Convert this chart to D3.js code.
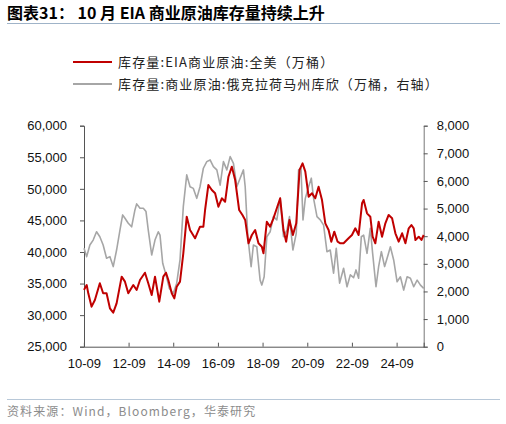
<!DOCTYPE html>
<html><head><meta charset="utf-8">
<script src="https://cdn.jsdelivr.net/npm/d3@7"></script>
<style>
body{margin:0;background:#fff;}
svg{display:block;font-family:"Liberation Sans",Arial,sans-serif;}
</style></head>
<body><svg id="c" width="506" height="424"></svg>
<script>
// ---- data ----
const seriesNames = ["库存量:EIA商业原油:全美（万桶）", "库存量:商业原油:俄克拉荷马州库欣（万桶，右轴）"];
const usDates = ["2010-09-03","2010-10-17","2010-11-12","2011-01-05","2011-02-28","2011-05-20","2011-07-13","2011-09-07","2011-11-01","2011-12-25",
"2012-02-18","2012-05-11","2012-07-04","2012-08-27","2012-11-17","2013-01-11","2013-03-07","2013-05-27","2013-07-20","2013-09-14",
"2013-11-07","2014-01-16","2014-03-23","2014-05-06","2014-06-13","2014-08-08","2014-09-19","2014-10-28","2014-12-21","2015-02-13",
"2015-04-10","2015-06-03","2015-08-24","2015-11-13","2016-01-07","2016-02-04","2016-03-29","2016-05-24","2016-07-17","2016-09-09",
"2016-11-04","2016-12-28","2017-02-20","2017-04-17","2017-06-10","2017-08-14","2017-10-07","2017-11-21","2018-01-14","2018-03-10",
"2018-05-03","2018-06-26","2018-08-20","2018-09-16","2018-11-10","2019-01-03","2019-02-26","2019-04-22","2019-06-16","2019-08-09",
"2019-09-22","2019-11-15","2020-01-10","2020-03-05","2020-04-28","2020-06-16","2020-07-31","2020-09-23","2020-11-17","2021-01-10",
"2021-03-05","2021-04-30","2021-06-23","2021-08-16","2021-09-29","2021-11-17","2022-01-10","2022-02-23","2022-04-18","2022-07-08",
"2022-09-02","2022-10-27","2022-12-20","2023-02-14","2023-03-12","2023-05-06","2023-06-29","2023-08-06","2023-09-19","2023-11-12",
"2024-01-07","2024-03-01","2024-04-24","2024-06-19","2024-08-12","2024-10-05","2024-11-30","2025-01-23","2025-03-18","2025-05-01",
"2025-06-08","2025-07-06","2025-08-29","2025-10-12","2025-11-18"];
const usStocks = [34000,34770,33450,31340,32400,35040,33460,33460,31080,30390,
31870,36090,35300,33460,34770,33980,35560,36720,35040,33190,
36090,32130,36090,36720,35560,33460,32660,34500,35300,39790,
45590,43480,42170,44000,44000,46650,50610,49820,49290,47170,
48500,47960,51920,53510,51400,46650,45860,45070,41380,42690,
43480,41380,40840,39790,44800,44000,45330,46920,48500,43480,
41630,45070,42690,44540,52990,54040,52720,48760,49290,48500,
50340,48230,44540,43480,41630,43220,41630,41380,41380,42170,
42690,43750,42690,47710,48230,46120,45590,42420,41380,44800,
42420,44540,45860,45330,42960,41630,42960,41380,43750,44270,
43750,41900,42420,41900,42690];
const cushingDates = ["2010-09-03","2010-10-17","2010-12-08","2011-01-31","2011-03-27","2011-05-20","2011-07-13","2011-09-07","2011-11-01","2011-12-25",
"2012-02-18","2012-04-13","2012-05-27","2012-07-04","2012-08-27","2012-10-21","2012-12-14","2013-01-11","2013-03-07","2013-04-30",
"2013-06-13","2013-07-20","2013-09-14","2013-11-07","2013-12-31","2014-01-28","2014-03-13","2014-05-06","2014-06-29","2014-09-02",
"2014-10-28","2014-12-21","2015-02-13","2015-04-10","2015-06-03","2015-07-27","2015-09-21","2015-11-13","2016-01-07","2016-03-03",
"2016-04-26","2016-06-19","2016-08-14","2016-10-07","2016-11-30","2017-01-25","2017-03-20","2017-05-13","2017-07-07","2017-08-30",
"2017-10-23","2017-11-21","2018-01-03","2018-02-26","2018-04-04","2018-05-29","2018-07-23","2018-08-20","2018-09-27","2018-11-10",
"2019-01-03","2019-02-26","2019-04-22","2019-06-16","2019-08-09","2019-10-04","2019-11-15","2020-01-10","2020-03-05","2020-04-12",
"2020-05-21","2020-06-23","2020-07-31","2020-09-23","2020-11-06","2020-12-13","2021-02-07","2021-04-02","2021-05-26","2021-07-20",
"2021-09-12","2021-11-05","2021-12-19","2022-02-12","2022-04-18","2022-06-13","2022-08-06","2022-09-29","2022-11-07","2022-12-20",
"2023-02-02","2023-03-12","2023-05-06","2023-06-29","2023-08-06","2023-09-30","2023-11-12","2023-12-27","2024-02-18","2024-04-14",
"2024-05-22","2024-07-15","2024-09-09","2024-11-02","2024-12-26","2025-02-20","2025-04-15","2025-06-08","2025-08-03","2025-09-26",
"2025-11-18"];
const cushingStocks = [3560,3260,3680,3860,4160,3980,3680,3200,3260,2900,
3500,4220,4770,4650,4470,4340,4950,5170,5010,5010,
4890,4220,3320,3860,4160,4040,3020,2600,2110,1930,
2300,3140,5070,6220,5790,5730,5370,5790,6460,6700,
6760,6520,6400,5850,6700,6400,6880,6640,5790,6100,
6400,5790,3980,2900,3680,3620,2410,2230,2530,3980,
4160,4710,4590,5370,3980,4220,4710,3500,4100,6400,
6460,4590,5370,5790,6100,5370,4710,4590,4400,3440,
3500,2660,3560,2300,2840,2170,2600,2500,2780,2480,
3980,4040,3380,4290,3380,2170,2900,3440,2900,3320,
3620,3140,2350,2530,2050,2530,2480,2170,2410,2230,
2110];
const xTickLabels = ["10-09","12-09","14-09","16-09","18-09","20-09","22-09","24-09"];
const leftTicks = [25000,30000,35000,40000,45000,50000,55000,60000];
const rightTicks = [0,1000,2000,3000,4000,5000,6000,7000,8000];

// ---- layout ----
const svg = d3.select("#c");
const m = {l:84, r:423.7, t:125.7, b:346.7};
const parse = d3.timeParse("%Y-%m-%d");
const parseTick = d3.timeParse("%y-%m");
const us = usDates.map((d,i)=>({d:parse(d), v:usStocks[i]}));
const cu = cushingDates.map((d,i)=>({d:parse(d), v:cushingStocks[i]}));

const x = d3.scaleTime().domain(d3.extent(us, d=>d.d)).range([m.l, m.r]);
const yL = d3.scaleLinear().domain([25000,60000]).range([m.b, m.t]);
const yR = d3.scaleLinear().domain([0,8000]).range([m.b, m.t]);
const fmt = d3.format(",");

// title
svg.append("text").attr("x",7).attr("y",19)
  .attr("font-family","'Noto Sans CJK SC','Liberation Sans',sans-serif")
  .attr("font-weight","bold").attr("font-size",16).attr("fill","#000")
  .text("图表31：  10 月 EIA 商业原油库存量持续上升");
svg.append("line").attr("x1",7).attr("x2",500).attr("y1",23.5).attr("y2",23.5)
  .attr("stroke","#9fb3c8").attr("stroke-width",1);

// legend
const colors = ["#C00000","#A6A6A6"];
const legY = [62, 84];
seriesNames.forEach((n,i)=>{
  svg.append("line").attr("x1",73).attr("x2",112).attr("y1",legY[i]).attr("y2",legY[i])
    .attr("stroke",colors[i]).attr("stroke-width",2);
  svg.append("text").attr("x",118).attr("y",legY[i]+4.5)
    .attr("font-family","'Noto Sans CJK SC',sans-serif").attr("font-size",13)
    .attr("letter-spacing",1.15)
    .attr("fill","#222").text(n);
});

// axes
const gL = svg.append("g").attr("transform",`translate(${m.l},0)`)
  .call(d3.axisLeft(yL).tickValues(leftTicks).tickFormat(fmt).tickSize(4).tickPadding(13));
const gR = svg.append("g").attr("transform",`translate(${m.r},0)`)
  .call(d3.axisRight(yR).tickValues(rightTicks).tickFormat(fmt).tickSize(4).tickPadding(9));
const gX = svg.append("g").attr("transform",`translate(0,${m.b})`)
  .call(d3.axisBottom(x).tickValues(xTickLabels.map(parseTick)).tickFormat(d3.timeFormat("%y-%m")).tickSize(-4).tickPadding(12));
[gL,gR,gX].forEach(g=>{
  g.selectAll("text").attr("font-size",13).attr("fill","#111").attr("font-family","'Liberation Sans',Arial,sans-serif");
  g.select(".domain").attr("stroke","#555");
  g.selectAll(".tick line").attr("stroke","#555");
});
gR.select(".domain").attr("stroke","#777");
gX.selectAll("text").attr("dy","0.71em");

// lines
svg.append("path").datum(cu).attr("fill","none").attr("stroke",colors[1]).attr("stroke-width",1.6)
  .attr("stroke-linejoin","round")
  .attr("d", d3.line().x(d=>x(d.d)).y(d=>yR(d.v)));
svg.append("path").datum(us).attr("fill","none").attr("stroke",colors[0]).attr("stroke-width",2)
  .attr("stroke-linejoin","round")
  .attr("d", d3.line().x(d=>x(d.d)).y(d=>yL(d.v)));

// footer
svg.append("line").attr("x1",7).attr("x2",500).attr("y1",399.5).attr("y2",399.5)
  .attr("stroke","#b8c8d8").attr("stroke-width",1);
svg.append("text").attr("x",7).attr("y",416)
  .attr("font-family","'Noto Sans CJK SC',sans-serif").attr("font-size",12).attr("fill","#8c8c8c")
  .attr("letter-spacing",1.1)
  .text("资料来源：Wind，Bloomberg，华泰研究");
</script></body></html>
